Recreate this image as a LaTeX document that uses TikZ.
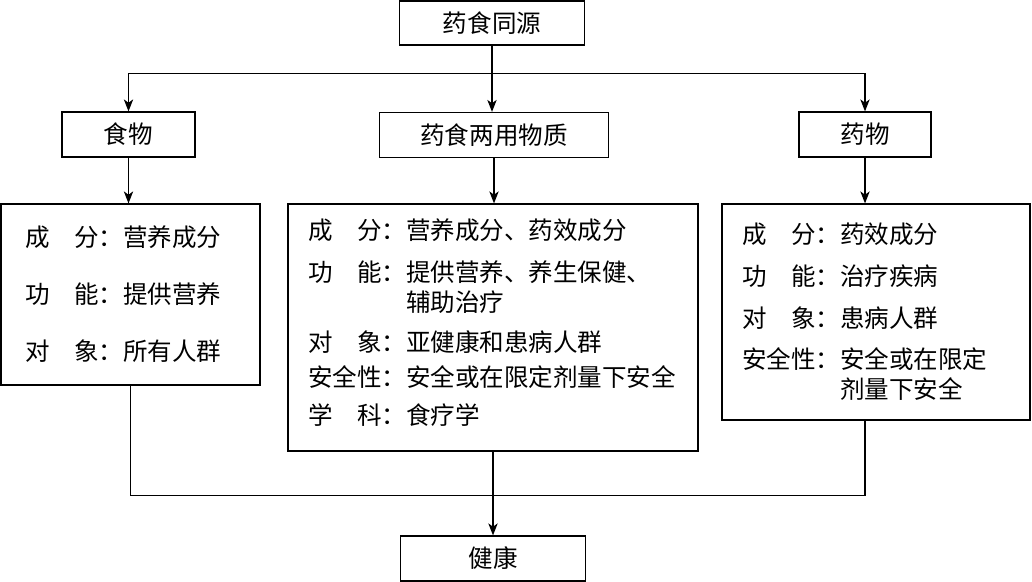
\documentclass[tikz,border=0pt]{standalone}
\usepackage{fontspec}
\newfontfamily\cjk{Noto Sans CJK SC}
\usepackage{tikz}
\usetikzlibrary{arrows.meta,positioning}
\newcommand\bodyfont{\cjk\fontsize{18.4}{22.5}\selectfont}
\newcommand\fieldname[2]{\makebox[3em][s]{#1\hfill#2}：}

\begin{document}
\begin{tikzpicture}[
  x=0.75pt,y=-0.75pt,
  box/.style={
    draw,
    line width=0.9pt,
    font=\bodyfont,
    minimum height=33.75pt,
    inner sep=0pt
  },
  info/.style={
    draw,
    line width=0.9pt,
    font=\bodyfont,
    align=left,
    inner xsep=15pt,
    inner ysep=0pt
  },
  arrow/.style={-{Stealth[length=9pt,width=7pt,inset=2.5pt]},line width=0.9pt}
]
  \useasboundingbox (0,0) rectangle (1032,582);
  \node[box,minimum width=138.75pt,minimum height=33pt] (origin) at (492,23) {药食同源};
  \node[box,minimum width=99.75pt] (food) at (128.5,134.5) {食物};
  \node[box,minimum width=171.75pt] (both) at (494,135) {药食两用物质};
  \node[box,minimum width=99pt] (medicine) at (865,134.5) {药物};

  \node[info,inner xsep=18pt,text width=158.25pt,minimum height=135.75pt]
    (foodinfo) at (130.5,294.5)
    {\fieldname{成}{分}营养成分\\[20.25pt]
     \fieldname{功}{能}提供营养\\[20.25pt]
     \fieldname{对}{象}所有人群};
  \node[info,text width=277.5pt,minimum height=185.25pt]
    (bothinfo) at (493,327.5)
    {\fieldname{成}{分}营养成分、药效成分\\[9pt]
     \fieldname{功}{能}提供营养、养生保健、\\
     \hspace*{4em}辅助治疗\\[7.5pt]
     \fieldname{对}{象}亚健康和患病人群\\[3.75pt]
     安全性：安全或在限定剂量下安全\\[6pt]
     \fieldname{学}{科}食疗学\rule[-9.5pt]{0pt}{1pt}};
  \node[info,text width=201pt,minimum height=162pt]
    (medinfo) at (876,312)
    {\fieldname{成}{分}药效成分\\[9pt]
     \fieldname{功}{能}治疗疾病\\[9pt]
     \fieldname{对}{象}患病人群\\[8.25pt]
     安全性：安全或在限定\\
     \hspace*{4em}剂量下安全};

  \node[box,minimum width=138.75pt] (health) at (493,558.5) {健康};

  \path (origin.south) ++(0,28) coordinate (split);
  \path (bothinfo.south) ++(0,44) coordinate (merge);

  \draw[arrow] (origin) -- (origin |- both.north);
  \draw[arrow] (split) -| (food.north);
  \draw[arrow] (split) -| (medicine.north);
  \draw[arrow] (food) -- (food |- foodinfo.north);
  \draw[arrow] (both) -- (both |- bothinfo.north);
  \draw[arrow] (medicine) -- (medicine |- medinfo.north);
  \draw[line width=0.9pt] (foodinfo.south) |- (merge) -| (medicine |- medinfo.south);
  \draw[arrow] (bothinfo) -- (health);
\end{tikzpicture}
\end{document}
